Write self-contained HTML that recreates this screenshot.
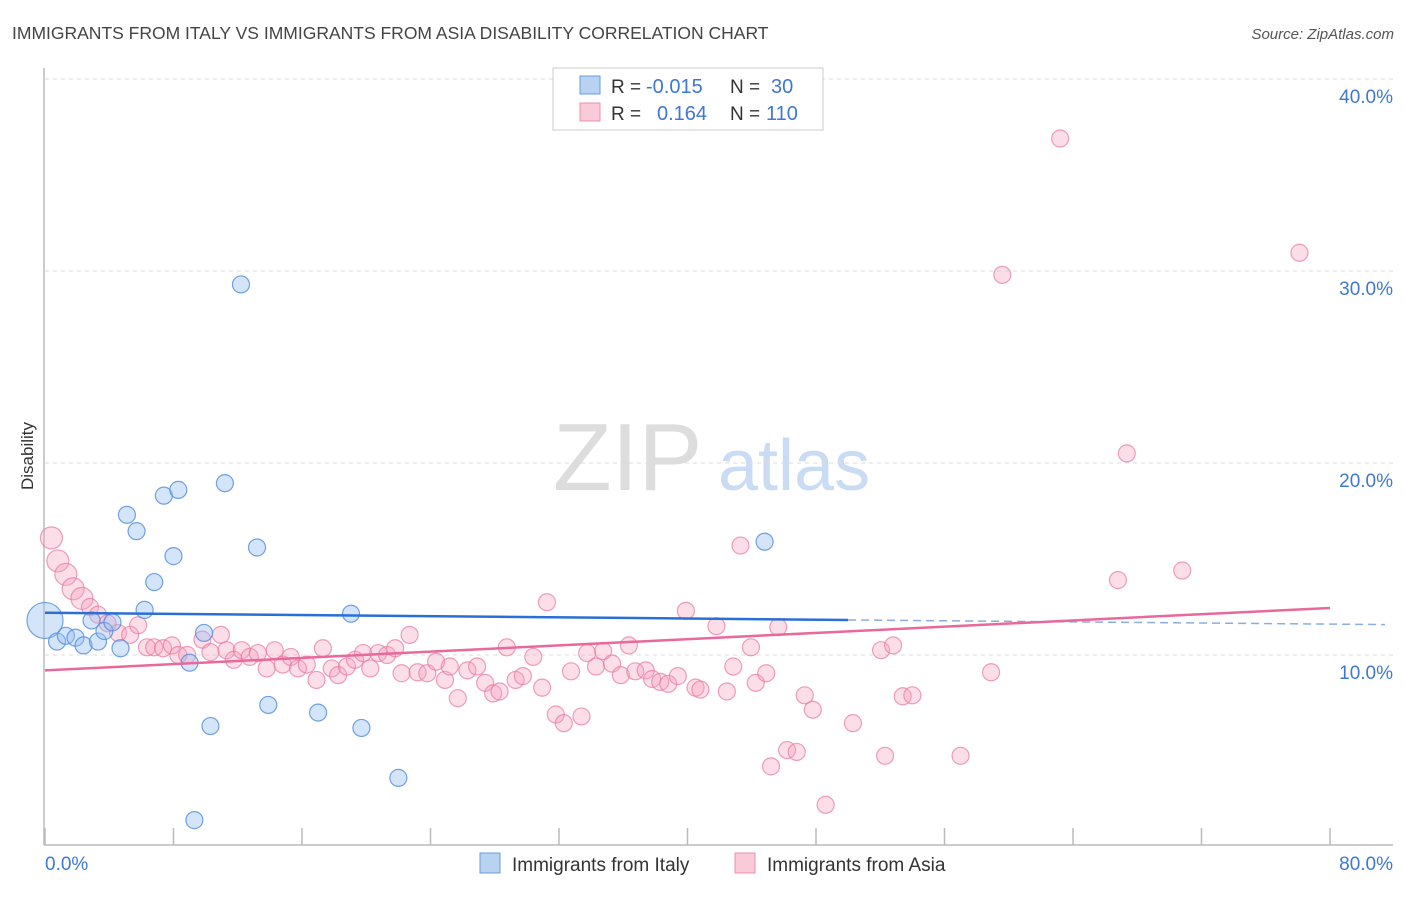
<!DOCTYPE html>
<html><head><meta charset="utf-8"><style>
body{margin:0;background:#fff;font-family:"Liberation Sans",sans-serif;}
svg text{font-family:"Liberation Sans",sans-serif;}
</style></head><body>
<svg id="chart" width="1406" height="892" viewBox="0 0 1406 892" xmlns="http://www.w3.org/2000/svg">
<text x="12" y="39" font-size="17.5" fill="#444">IMMIGRANTS FROM ITALY VS IMMIGRANTS FROM ASIA DISABILITY CORRELATION CHART</text>
<text x="1394" y="39" font-size="15" fill="#555" font-style="italic" text-anchor="end">Source: ZipAtlas.com</text>
<g>
<text x="553" y="490" font-size="96" fill="#ddd" font-family="Liberation Serif, serif">ZIP</text>
<text x="718" y="490" font-size="72" fill="#c9dcf3">atlas</text>
</g>
<g id="grid"></g>
<g id="axes"></g>
<g id="marks"></g>
<text transform="translate(33,456) rotate(-90)" font-size="17" fill="#333" text-anchor="middle">Disability</text>
<g>
<rect x="553" y="68" width="270" height="62" fill="#fff" stroke="#ccc"/>
<rect x="580" y="76" width="20" height="18" fill="#b8d2f2" stroke="#6a9ce0"/>
<rect x="580" y="103" width="20" height="18" fill="#fbcad9" stroke="#ec8fae"/>
<text x="611" y="93" font-size="19" fill="#333">R = </text>
<text x="646" y="93" font-size="20" fill="#3f78d4">-0.015</text>
<text x="730" y="93" font-size="19" fill="#333">N = </text>
<text x="771" y="93" font-size="20" fill="#3f78d4">30</text>
<text x="611" y="120" font-size="19" fill="#333">R = </text>
<text x="657" y="120" font-size="20" fill="#3f78d4">0.164</text>
<text x="730" y="120" font-size="19" fill="#333">N = </text>
<text x="766" y="120" font-size="20" fill="#3f78d4">110</text>
</g>
<g>
<rect x="480" y="853" width="20" height="20" fill="#b8d2f2" stroke="#6a9ce0"/>
<text x="512" y="871" font-size="19" fill="#333">Immigrants from Italy</text>
<rect x="735" y="853" width="20" height="20" fill="#fbcad9" stroke="#ec8fae"/>
<text x="767" y="871" font-size="19" fill="#333">Immigrants from Asia</text>
</g>
</svg>
<script>
const yTicks=[10,20,30,40];
const yTickLabels=["10.0%","20.0%","30.0%","40.0%"];
const xTickCount=10;
const xEndLabels=["0.0%","80.0%"];
const italyX=[0,0.75,1.3,1.9,2.4,2.9,3.3,3.7,4.2,4.7,5.1,5.7,6.2,6.8,7.4,8.0,8.3,9.0,9.9,10.3,11.2,12.2,13.2,13.9,17.0,19.05,19.7,22.0,9.3,44.8];
const italyY=[11.8,10.7,11.0,10.9,10.5,11.8,10.7,11.25,11.7,10.35,17.3,16.45,12.35,13.8,18.3,15.15,18.6,9.6,11.15,6.3,18.95,29.3,15.6,7.4,7.0,12.15,6.2,3.6,1.4,15.9];
const asiaX=[0.4,0.8,1.3,1.75,2.3,2.8,3.3,3.9,4.55,5.3,5.8,6.35,6.8,7.35,7.9,8.3,8.85,9.8,10.3,10.95,11.3,11.75,12.25,12.75,13.25,13.8,14.3,14.8,15.3,15.75,16.3,16.9,17.3,17.85,18.25,18.8,19.3,19.8,20.25,20.75,21.3,21.8,22.2,22.7,23.2,23.8,24.35,24.9,25.2,25.7,26.3,26.9,27.4,27.9,28.3,28.75,29.3,29.75,30.4,30.95,31.25,31.8,32.3,32.75,33.4,33.75,34.3,34.75,35.3,35.85,36.35,36.75,37.4,37.8,38.3,38.8,39.4,39.9,40.5,40.8,41.8,42.45,42.85,43.95,44.25,44.9,45.65,45.2,46.2,46.8,47.3,47.8,48.6,50.3,52.05,52.8,52.3,53.4,54.0,43.3,63.2,59.6,78.1,67.35,66.8,70.8,57.0,58.9];
const asiaY=[16.1,14.9,14.2,13.45,12.95,12.5,12.1,11.65,11.15,11.05,11.55,10.4,10.4,10.35,10.5,10.0,10.0,10.8,10.15,11.05,10.25,9.75,10.25,9.9,10.1,9.3,10.25,9.5,9.9,9.3,9.5,8.7,10.35,9.3,8.95,9.4,9.75,10.1,9.3,10.1,10.0,10.35,9.05,11.05,9.1,9.05,9.65,8.7,9.4,7.75,9.2,9.4,8.55,8.0,8.1,10.4,8.7,8.9,9.9,8.3,12.75,6.9,6.45,9.15,6.8,10.1,9.4,10.2,9.55,8.95,10.5,9.15,9.2,8.75,8.6,8.5,8.9,12.3,8.3,8.2,11.5,8.1,9.4,10.4,8.55,9.05,11.45,4.2,5.05,4.95,7.9,7.15,2.2,6.45,10.25,10.5,4.75,7.85,7.9,15.7,36.9,29.8,30.95,20.5,13.9,14.4,4.75,9.1];
const italyTrend=[12.2,11.6];   // y at x=0 and x=80
const italyTrendSolidEnd=50;
const asiaTrend=[9.2,12.45];

const NS="http://www.w3.org/2000/svg";
const X0=45,X1=1330,Y0=847,PX_PER_PCT=19.2;
const sx=v=>X0+(v/80)*(X1-X0);
const sy=v=>Y0-v*PX_PER_PCT;
function mk(tag,attrs,parent){const e=document.createElementNS(NS,tag);for(const k in attrs)e.setAttribute(k,attrs[k]);parent.appendChild(e);return e;}
const grid=document.getElementById('grid'),axes=document.getElementById('axes'),marks=document.getElementById('marks');
yTicks.forEach((t,i)=>{
  const l=mk('line',{x1:45,x2:1393,y1:sy(t),y2:sy(t),stroke:'#ddd','stroke-dasharray':'4,4'},grid);
  
  
  const tx=mk('text',{x:1393,y:sy(t)+24,'font-size':19,fill:'#3f78d4','text-anchor':'end'},axes);
  tx.textContent=yTickLabels[i];
  
  
});
const ax=mk('line',{x1:44,x2:44,y1:68,y2:845,stroke:'#bbb','stroke-width':1.5},axes);


const bx=mk('line',{x1:44,x2:1393,y1:845,y2:845,stroke:'#bbb','stroke-width':1.5},axes);


for(let i=0;i<=xTickCount;i++){
  const x=sx(i*80/xTickCount);
  const t=mk('line',{x1:x,x2:x,y1:828,y2:845,stroke:'#bbb','stroke-width':1.5},axes);
  
  
}
const xl0=mk('text',{x:45,y:870,'font-size':19,fill:'#3f78d4'},axes);
xl0.textContent=xEndLabels[0];


const xl1=mk('text',{x:1393,y:870,'font-size':19,fill:'#3f78d4','text-anchor':'end'},axes);
xl1.textContent=xEndLabels[1];



asiaX.forEach((v,i)=>{
  const r=i<5?11:8.5;
  const c=mk('circle',{cx:sx(v),cy:sy(asiaY[i]),r:r,fill:'rgba(245,160,190,0.35)',stroke:'rgba(232,120,160,0.7)','stroke-width':1.2},marks);
  
  
});
italyX.forEach((v,i)=>{
  const r=i===0?18:8.5;
  const c=mk('circle',{cx:sx(v),cy:sy(italyY[i]),r:r,fill:'rgba(150,190,240,0.4)',stroke:'rgba(80,140,220,0.8)','stroke-width':1.2},marks);
  
  
});
const iy=x=>italyTrend[0]+(italyTrend[1]-italyTrend[0])*x/80;
const l1=mk('line',{x1:sx(0),y1:sy(iy(0)),x2:sx(italyTrendSolidEnd),y2:sy(iy(italyTrendSolidEnd)),stroke:'#2a6fd6','stroke-width':2.5},marks);


const l2=mk('line',{x1:sx(italyTrendSolidEnd),y1:sy(iy(italyTrendSolidEnd)),x2:1385,y2:sy(iy(80))+0.3,stroke:'#8aaedc','stroke-width':1.5,'stroke-dasharray':'8,5'},marks);


const l3=mk('line',{x1:sx(0),y1:sy(asiaTrend[0]),x2:sx(80),y2:sy(asiaTrend[1]),stroke:'#e8699a','stroke-width':2.5},marks);


</script>
</body></html>
